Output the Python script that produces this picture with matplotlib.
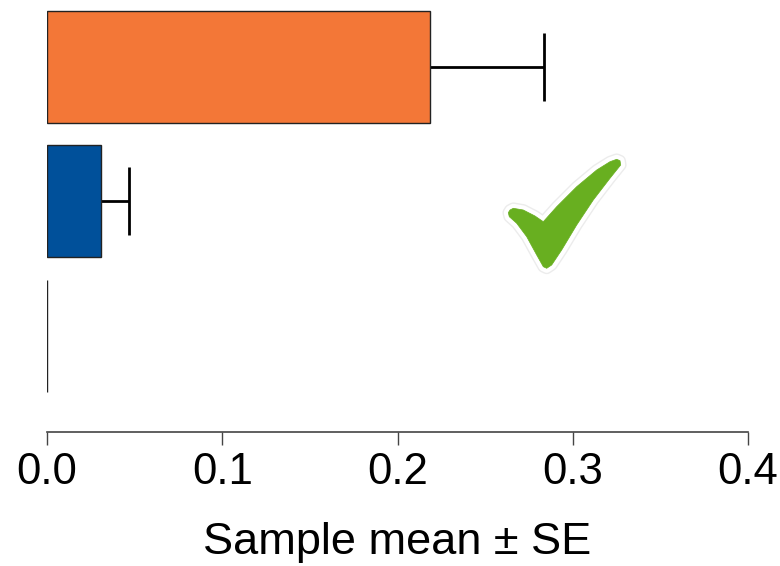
import matplotlib
matplotlib.use("Agg")
import matplotlib.pyplot as plt
import numpy as np
from matplotlib.path import Path
from matplotlib.patches import PathPatch

plt.rcParams['font.family'] = ['Liberation Sans', 'DejaVu Sans']

# data (bottom to top)
groups = ["C", "B", "A"]
means = [0.0, 0.031, 0.2185]
se = [0.0, 0.016, 0.065]
colors = ["#FFFFFF", "#00509A", "#F37737"]

W, H = 780, 566
fig = plt.figure(figsize=(W / 100, H / 100), dpi=100)
ax = fig.add_axes([47 / W, 1 - 432 / H, (748 - 47) / W, 432 / H])

pos = np.arange(len(groups))
ax.barh(pos, means, height=0.833, color=colors, edgecolor="#222222", linewidth=1.0, zorder=2)

# one-sided error bars (upper only)
m = np.array(se) > 0
eb = ax.errorbar(np.array(means)[m], pos[m], xerr=[np.zeros(m.sum()), np.array(se)[m]],
                 fmt="none", ecolor="black", elinewidth=2.0, capsize=24.5, capthick=2.0, zorder=1)
eb[1][0].set_visible(False)  # no cap at the bar end

ax.set_xlim(0, 0.4)
ax.set_ylim(-0.714, 2.498)
ax.set_xticks([0.0, 0.1, 0.2, 0.3, 0.4])
ax.set_xticklabels(["0.0", "0.1", "0.2", "0.3", "0.4"])
ax.set_yticks([])
for s in ["top", "left", "right"]:
    ax.spines[s].set_visible(False)
ax.spines["bottom"].set_color("#444444")
ax.spines["bottom"].set_linewidth(1.2)
ax.tick_params(axis="x", length=9.5, width=1.0, color="#444444", pad=5, labelsize=31.5)
ax.set_xlabel("Sample mean ± SE", fontsize=32.5, labelpad=21)

# green check mark (decoration), in pixel coords of the picture
pts = [(513.3, 208.3), (523.3, 210), (535, 216), (543.3, 221.7), (556.7, 206.7),
       (576.7, 186.7), (596.7, 170), (610, 161.7), (616.7, 159.3), (620, 160.7),
       (620.7, 165), (610, 178.3), (593.3, 200), (576.7, 225), (561.7, 250),
       (551.7, 265), (546.7, 268.3), (543.3, 266.7), (536.7, 255), (526.7, 236.7),
       (516.7, 223.3), (509.3, 216.7), (508.3, 212.7), (510, 210), (513.3, 208.3)]
verts = [(x / W, 1 - y / H) for x, y in pts]
path = Path(verts, closed=True)
fig.patches.append(PathPatch(path, transform=fig.transFigure, facecolor="none",
                             edgecolor="#ececec", linewidth=8.5, joinstyle="round"))
fig.patches.append(PathPatch(path, transform=fig.transFigure, facecolor="none",
                             edgecolor="white", linewidth=6.5, joinstyle="round"))
fig.patches.append(PathPatch(path, transform=fig.transFigure, facecolor="#68AF20",
                             edgecolor="#68AF20", linewidth=0.5, joinstyle="round"))

fig.savefig("out.png", dpi=100)
